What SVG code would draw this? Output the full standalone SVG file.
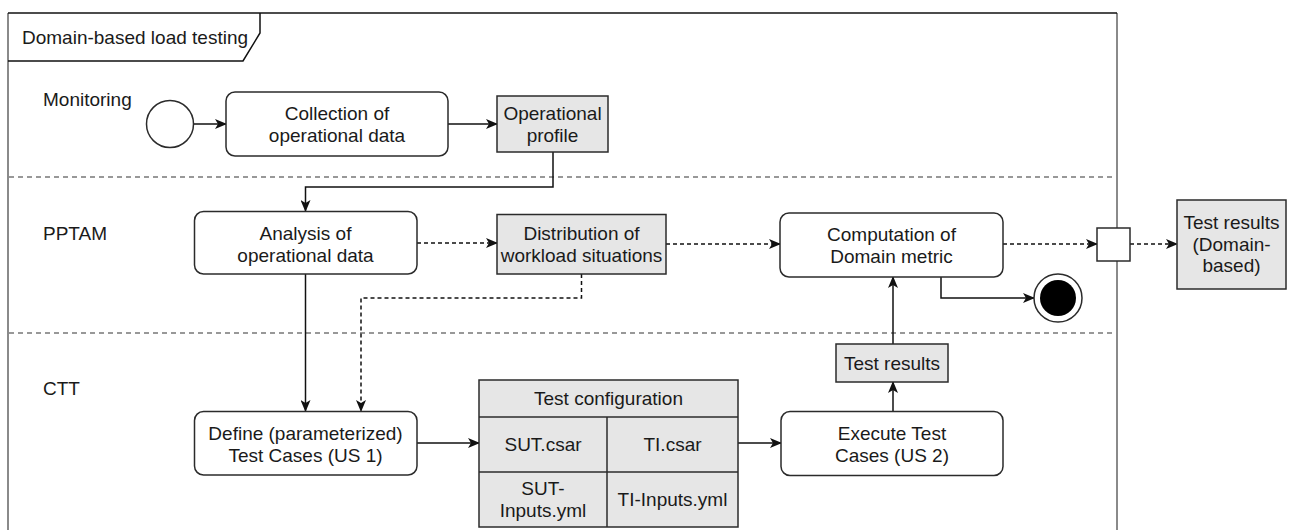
<svg xmlns="http://www.w3.org/2000/svg" width="1289" height="530" viewBox="0 0 1289 530">
  <style>
    text { font-family: "Liberation Sans", Arial, Helvetica, sans-serif; font-size: 19px; fill: #1a1a1a; }
    .c { text-anchor: middle; dominant-baseline: central; }
    .act { fill: #ffffff; stroke: #2b2b2b; stroke-width: 1.5; }
    .obj { fill: #e6e6e6; stroke: #2b2b2b; stroke-width: 1.5; }
    .lane { fill: none; stroke: #777777; stroke-width: 1.5; stroke-dasharray: 5 4; }
    .side { fill: none; stroke: #8a8a8a; stroke-width: 2; }
    .flow { fill: none; stroke: #111111; stroke-width: 1.5; }
    .dash { fill: none; stroke: #111111; stroke-width: 1.5; stroke-dasharray: 4 3; }
  </style>
  <defs>
    <marker id="arrow" viewBox="0 0 12 10" refX="11" refY="5" markerWidth="12" markerHeight="10" markerUnits="userSpaceOnUse" orient="auto">
      <path d="M0,0 L12,5 L0,10 L3,5 Z" fill="#111111"/>
    </marker>
  </defs>

  <!-- frame -->
  <g id="frame">
    <rect x="0" y="0" width="1289" height="530" fill="#ffffff"/>
    <line x1="8" y1="13" x2="8" y2="530" class="side"/>
    <line x1="1117" y1="13" x2="1117" y2="530" class="side"/>
    <line x1="8" y1="13" x2="1117" y2="13" stroke="#111111" stroke-width="1.5"/>
    <path d="M8,61 L243,61 L260,33 L260,13" fill="none" stroke="#111111" stroke-width="1.5"/>
    <text x="22" y="44">Domain-based load testing</text>
  </g>

  <!-- lanes -->
  <g id="lanes">
    <line x1="9" y1="177" x2="1116" y2="177" class="lane"/>
    <line x1="9" y1="333" x2="1116" y2="333" class="lane"/>
    <text x="43" y="106">Monitoring</text>
    <text x="43" y="240">PPTAM</text>
    <text x="43" y="395">CTT</text>
  </g>

  <!-- connectors -->
  <g id="connectors">
    <line x1="193.5" y1="124" x2="226" y2="124" class="flow" marker-end="url(#arrow)"/>
    <line x1="448" y1="124" x2="497" y2="124" class="flow" marker-end="url(#arrow)"/>
    <path d="M553,152 L553,187 L305.5,187 L305.5,211" class="flow" marker-end="url(#arrow)"/>
    <line x1="417" y1="243" x2="497" y2="243" class="dash" marker-end="url(#arrow)"/>
    <line x1="666" y1="244" x2="780" y2="244" class="dash" marker-end="url(#arrow)"/>
    <line x1="1003" y1="244" x2="1097" y2="244" class="dash" marker-end="url(#arrow)"/>
    <line x1="1130" y1="244" x2="1177" y2="244" class="dash" marker-end="url(#arrow)"/>
    <path d="M941,277 L941,298 L1034,298" class="flow" marker-end="url(#arrow)"/>
    <line x1="305.5" y1="274" x2="305.5" y2="411" class="flow" marker-end="url(#arrow)"/>
    <path d="M581.5,274 L581.5,298 L361,298 L361,411" class="dash" marker-end="url(#arrow)"/>
    <line x1="417" y1="443" x2="479" y2="443" class="flow" marker-end="url(#arrow)"/>
    <line x1="738" y1="443" x2="781" y2="443" class="flow" marker-end="url(#arrow)"/>
    <line x1="893" y1="411" x2="893" y2="382" class="flow" marker-end="url(#arrow)"/>
    <line x1="893" y1="344" x2="893" y2="277" class="flow" marker-end="url(#arrow)"/>
  </g>

  <!-- nodes -->
  <g id="start">
    <circle cx="170" cy="124" r="23.5" fill="#ffffff" stroke="#2b2b2b" stroke-width="1.5"/>
  </g>

  <g id="collection">
    <rect x="226" y="92" width="222" height="64" rx="9" class="act"/>
    <text x="337" y="113" class="c">Collection of</text>
    <text x="337" y="135" class="c">operational data</text>
  </g>

  <g id="operational-profile">
    <rect x="497" y="96" width="111" height="56" class="obj"/>
    <text x="552.5" y="113" class="c">Operational</text>
    <text x="552.5" y="135" class="c">profile</text>
  </g>

  <g id="analysis">
    <rect x="194.5" y="211.5" width="222.5" height="62.5" rx="9" class="act"/>
    <text x="305.5" y="233" class="c">Analysis of</text>
    <text x="305.5" y="255" class="c">operational data</text>
  </g>

  <g id="distribution">
    <rect x="497" y="214.5" width="169" height="59.5" class="obj"/>
    <text x="581.5" y="233" class="c">Distribution of</text>
    <text x="581.5" y="255" class="c">workload situations</text>
  </g>

  <g id="computation">
    <rect x="780" y="213" width="223" height="64" rx="9" class="act"/>
    <text x="891.5" y="234" class="c">Computation of</text>
    <text x="891.5" y="256" class="c">Domain metric</text>
  </g>

  <g id="output-pin">
    <rect x="1097" y="228" width="33" height="33" fill="#ffffff" stroke="#2b2b2b" stroke-width="1.5"/>
  </g>

  <g id="domain-results">
    <rect x="1177" y="200" width="109" height="89" class="obj"/>
    <text x="1231.5" y="222.5" class="c">Test results</text>
    <text x="1231.5" y="244" class="c">(Domain-</text>
    <text x="1231.5" y="265.5" class="c">based)</text>
  </g>

  <g id="end">
    <circle cx="1058" cy="298" r="24" fill="#ffffff" stroke="#2b2b2b" stroke-width="1.5"/>
    <circle cx="1058" cy="298" r="18" fill="#000000"/>
  </g>

  <g id="test-results">
    <rect x="836" y="344" width="112" height="38" class="obj"/>
    <text x="892" y="363" class="c">Test results</text>
  </g>

  <g id="define">
    <rect x="194.5" y="411.5" width="222.5" height="63.5" rx="9" class="act"/>
    <text x="305.5" y="433" class="c">Define (parameterized)</text>
    <text x="305.5" y="455" class="c">Test Cases (US 1)</text>
  </g>

  <g id="test-configuration">
    <rect x="479" y="380" width="259" height="147" class="obj"/>
    <line x1="479" y1="417" x2="738" y2="417" stroke="#2b2b2b" stroke-width="1.5"/>
    <line x1="479" y1="472" x2="738" y2="472" stroke="#2b2b2b" stroke-width="1.5"/>
    <line x1="607" y1="417" x2="607" y2="527" stroke="#2b2b2b" stroke-width="1.5"/>
    <text x="608.5" y="398.5" class="c">Test configuration</text>
    <text x="543" y="444.5" class="c">SUT.csar</text>
    <text x="672.5" y="444.5" class="c">TI.csar</text>
    <text x="543" y="488.5" class="c">SUT-</text>
    <text x="543" y="510.5" class="c">Inputs.yml</text>
    <text x="672.5" y="499.5" class="c">TI-Inputs.yml</text>
  </g>

  <g id="execute">
    <rect x="781" y="411.5" width="222" height="64" rx="9" class="act"/>
    <text x="892" y="433" class="c">Execute Test</text>
    <text x="892" y="455" class="c">Cases (US 2)</text>
  </g>
</svg>
